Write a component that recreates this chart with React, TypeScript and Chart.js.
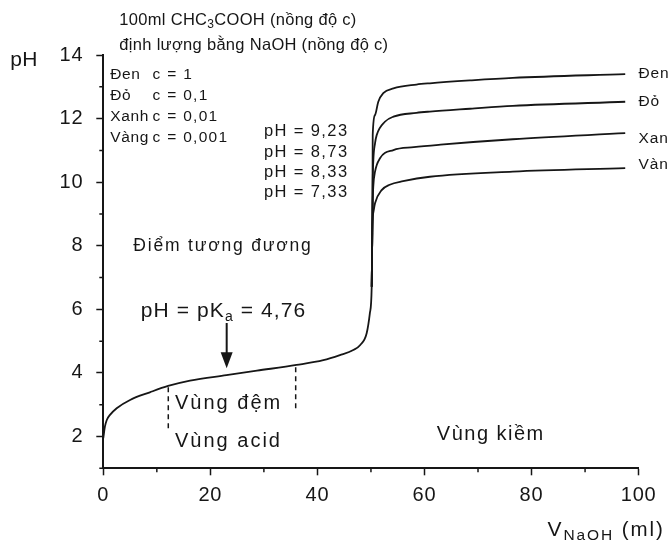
import React, { useEffect, useRef } from "react";
import { Chart, registerables } from "chart.js";

Chart.register(...registerables);

// ---- data (V NaOH in ml, pH) ----
const denV = [0, 0.3, 0.65, 1.25, 2.5, 5, 8.7, 12.1, 16.2, 23, 28.7, 36.1, 41.1, 44.2, 46.7, 48, 49.2, 49.8, 50.14, 50.25, 50.3, 50.33, 50.76, 51.37, 52.3, 54.2, 58.5, 61, 68.5, 76.5, 97.5];
const denPH = [1.95, 2.31, 2.52, 2.68, 2.89, 3.15, 3.39, 3.59, 3.76, 3.93, 4.07, 4.25, 4.4, 4.56, 4.72, 4.88, 5.25, 5.88, 6.71, 8.4, 10.0, 11.48, 12.11, 12.53, 12.8, 12.95, 13.07, 13.11, 13.2, 13.28, 13.4];

const doV = [50.14, 50.25, 50.33, 50.45, 50.76, 51.07, 52.6, 54.2, 58.5, 61, 68.5, 76.5, 97.5];
const doPH = [6.71, 8.4, 10.0, 10.7, 11.22, 11.48, 11.9, 12.06, 12.18, 12.22, 12.31, 12.4, 12.53];

const xanhV = [50.14, 50.25, 50.33, 50.45, 50.76, 51.69, 54.2, 58, 63, 76.5, 97.5];
const xanhPH = [6.71, 8.4, 9.4, 9.9, 10.33, 10.75, 11.01, 11.1, 11.18, 11.35, 11.54];

const vangV = [50.14, 50.25, 50.35, 50.5, 50.76, 52, 53.5, 56, 61, 76.5, 97.5];
const vangPH = [6.71, 8.4, 8.9, 9.1, 9.34, 9.75, 9.92, 10.03, 10.17, 10.33, 10.44];

// buffer-zone dashed markers
const bufferLeftV = [12.14, 12.14];
const bufferLeftPH = [2.26, 3.57];
const bufferRightV = [35.94, 35.94];
const bufferRightPH = [2.89, 4.18];

// pKa arrow
const arrowV = 23.05;
const arrowFromPH = 5.57;
const arrowToPH = 4.15;

// ticks
const xMajorTicks = [0, 20, 40, 60, 80, 100];
const xMinorTicks = [10, 30, 50, 70, 90];
const yMajorTicks = [2, 4, 6, 8, 10, 12, 14];
const yMinorTicks = [1, 3, 5, 7, 9, 11, 13];

// curve labels
const curveNames = ["Đen", "Đỏ", "Xanh", "Vàng"];
const curveEndPH = [13.4, 12.53, 11.38, 10.54];
const concLabels = ["c = 1", "c = 0,1", "c = 0,01", "c = 0,001"];
const eqLabels = ["pH = 9,23", "pH = 8,73", "pH = 8,33", "pH = 7,33"];

const INK = "#161616";
const FONT = "'Liberation Sans', Arial, Helvetica, sans-serif";

const pts = (xs: number[], ys: number[]) => xs.map((x, i) => ({ x, y: ys[i] }));

type Seg = { t: string; size: number; dy?: number };

function drawSegs(ctx: CanvasRenderingContext2D, segs: Seg[], x: number, y: number, ls = 0) {
  ctx.save();
  ctx.fillStyle = INK;
  ctx.textBaseline = "middle";
  ctx.textAlign = "left";
  let cx = x;
  for (const s of segs) {
    ctx.font = `${s.size}px ${FONT}`;
    (ctx as any).letterSpacing = `${ls}px`;
    ctx.fillText(s.t, cx, y + (s.dy || 0));
    cx += ctx.measureText(s.t).width;
  }
  ctx.restore();
}

const annotations = {
  id: "annotations",
  beforeDraw(chart: any) {
    (chart.ctx as any).letterSpacing = "0.8px";
  },
  afterDraw(chart: any) {
    const ctx: CanvasRenderingContext2D = chart.ctx;
    const xs = chart.scales.x;
    const ys = chart.scales.y;
    const X = (v: number) => xs.getPixelForValue(v);
    const Y = (v: number) => ys.getPixelForValue(v);
    const area = chart.chartArea;

    // minor ticks
    ctx.save();
    ctx.strokeStyle = INK;
    ctx.lineWidth = 1.5;
    ctx.beginPath();
    xMinorTicks.forEach((v) => {
      ctx.moveTo(X(v), area.bottom);
      ctx.lineTo(X(v), area.bottom + 4);
    });
    yMinorTicks.forEach((v) => {
      ctx.moveTo(area.left - 4, Y(v));
      ctx.lineTo(area.left, Y(v));
    });
    ctx.stroke();
    ctx.restore();

    // arrow
    ctx.save();
    ctx.strokeStyle = INK;
    ctx.fillStyle = INK;
    ctx.lineWidth = 2;
    const ax = X(arrowV);
    const ay0 = Y(arrowFromPH);
    const ay1 = Y(arrowToPH);
    ctx.beginPath();
    ctx.moveTo(ax, ay0);
    ctx.lineTo(ax, ay1 - 12);
    ctx.stroke();
    ctx.beginPath();
    ctx.moveTo(ax - 6, ay1 - 16);
    ctx.lineTo(ax + 6, ay1 - 16);
    ctx.lineTo(ax, ay1);
    ctx.closePath();
    ctx.fill();
    ctx.restore();

    // title
    drawSegs(ctx, [
      { t: "100ml CHC", size: 16.5 },
      { t: "3", size: 12, dy: 5 },
      { t: "COOH (nồng độ c)", size: 16.5 },
    ], X(3.0), Y(15.1), 0.3);
    drawSegs(ctx, [{ t: "định lượng bằng NaOH (nồng độ c)", size: 16.5 }], X(3.0), Y(14.3), 0.3);

    // y axis title
    drawSegs(ctx, [{ t: "pH", size: 21 }], X(-17.4), Y(13.85), 0.5);

    // legend block
    curveNames.forEach((n, i) => {
      const yv = [13.37, 12.71, 12.05, 11.39][i];
      drawSegs(ctx, [{ t: n, size: 15.5 }], X(1.3), Y(yv), 0.6);
      drawSegs(ctx, [{ t: concLabels[i], size: 15.5 }], X(9.2), Y(yv), 1.3);
    });

    // equivalence pH labels
    eqLabels.forEach((t, i) => {
      const yv = [11.58, 10.95, 10.32, 9.69][i];
      drawSegs(ctx, [{ t, size: 16.5 }], X(30.0), Y(yv), 1.4);
    });

    drawSegs(ctx, [{ t: "Điểm tương đương", size: 17.5 }], X(5.6), Y(8.0), 1.8);
    drawSegs(ctx, [
      { t: "pH = pK", size: 21 },
      { t: "a", size: 14, dy: 6 },
      { t: " = 4,76", size: 21 },
    ], X(7.0), Y(5.95), 1.1);

    drawSegs(ctx, [{ t: "Vùng đệm", size: 20 }], X(13.4), Y(3.04), 2);
    drawSegs(ctx, [{ t: "Vùng acid", size: 20 }], X(13.4), Y(1.84), 2);
    drawSegs(ctx, [{ t: "Vùng kiềm", size: 20 }], X(62.3), Y(2.05), 1.5);

    // curve end labels
    curveNames.forEach((n, i) => {
      drawSegs(ctx, [{ t: n, size: 15.5 }], X(100), Y(curveEndPH[i]), 0.8);
    });

    // x axis title
    drawSegs(ctx, [
      { t: "V", size: 21 },
      { t: "NaOH", size: 15.5, dy: 6 },
      { t: " (ml)", size: 20.5 },
    ], X(83.0), Y(-0.94), 1.9);
  },
};

export default function App() {
  const ref = useRef<HTMLCanvasElement | null>(null);

  useEffect(() => {
    if (!ref.current) return;
    const line = (data: any[], extra: any = {}) => ({
      data,
      borderColor: INK,
      borderWidth: 1.8,
      pointRadius: 0,
      fill: false,
      cubicInterpolationMode: "monotone",
      ...extra,
    });
    const chart = new Chart(ref.current, {
      type: "line",
      data: {
        datasets: [
          line(pts(denV, denPH)) as any,
          line(pts(doV, doPH)),
          line(pts(xanhV, xanhPH)),
          line(pts(vangV, vangPH)),
          line(pts(bufferLeftV, bufferLeftPH), { borderDash: [5, 4], borderWidth: 1.5, cubicInterpolationMode: "default", tension: 0 }),
          line(pts(bufferRightV, bufferRightPH), { borderDash: [5, 4], borderWidth: 1.5, cubicInterpolationMode: "default", tension: 0 }),
        ],
      },
      options: {
        animation: false,
        responsive: false,
        devicePixelRatio: 1,
        layout: { padding: { top: 55, right: 30.4, left: 0, bottom: 0 } },
        plugins: { legend: { display: false }, tooltip: { enabled: false } },
        scales: {
          x: {
            type: "linear",
            min: 0,
            max: 100,
            afterFit: (s: any) => { s.height = 72.7; },
            afterBuildTicks: (s: any) => { s.ticks = xMajorTicks.map((v) => ({ value: v })); },
            ticks: { color: INK, font: { family: FONT, size: 20 }, padding: 8, maxRotation: 0, autoSkip: false },
            grid: { drawOnChartArea: false, drawTicks: true, tickLength: 7, tickColor: INK, tickWidth: 1.5 },
            border: { display: true, color: INK, width: 2 },
          },
          y: {
            type: "linear",
            min: 1,
            max: 14,
            afterFit: (s: any) => { s.width = 103.3; },
            afterBuildTicks: (s: any) => { s.ticks = yMajorTicks.map((v) => ({ value: v })); },
            ticks: { color: INK, font: { family: FONT, size: 20 }, padding: 13, autoSkip: false },
            grid: { drawOnChartArea: false, drawTicks: true, tickLength: 7, tickColor: INK, tickWidth: 1.5 },
            border: { display: true, color: INK, width: 2 },
          },
        },
      } as any,
      plugins: [annotations as any],
    });
    return () => chart.destroy();
  }, []);

  return (
    <div style={{ position: "fixed", left: 0, top: 0, width: 669, height: 541, background: "#fff" }}>
      <canvas ref={ref} width={669} height={541} style={{ display: "block" }} />
    </div>
  );
}
